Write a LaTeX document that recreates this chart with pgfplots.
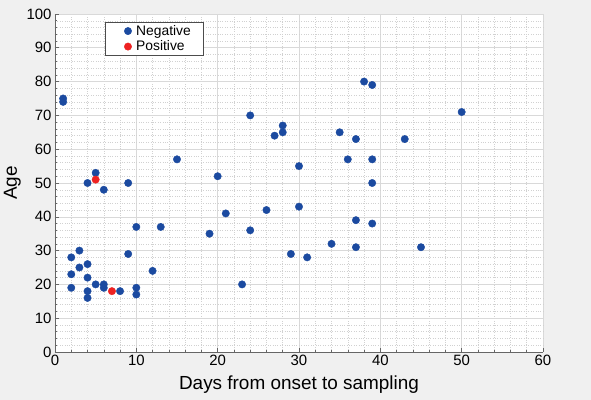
\documentclass[border=0pt]{standalone}
\usepackage{pgfplots}
\pgfplotsset{compat=1.18}
\usepackage{fontspec}
\setmainfont{Liberation Sans}
\definecolor{negblue}{HTML}{1B4AA0}
\definecolor{posred}{HTML}{EE2222}
\definecolor{bggray}{HTML}{F0F0F0}
\begin{document}
\begin{tikzpicture}
\fill[bggray] (-55bp,-48bp) rectangle (536bp,352bp);
\begin{axis}[
  at={(0,0)}, anchor=south west,
  scale only axis, width=488bp, height=338bp,
  xmin=0, xmax=60, ymin=0, ymax=100,
  xtick={0,10,...,60}, ytick={0,10,...,100},
  minor x tick num=4, minor y tick num=4,
  axis x line*=bottom, axis y line*=left,
  axis line style={color=black!60, line width=0.8pt, -},
  tick align=inside,
  major tick length=4bp, minor tick length=2bp,
  tick style={color=black!60, line width=0.6pt},
  grid=both,
  major grid style={color=black!15, line width=0.6pt},
  minor grid style={color=black!18, dotted, line width=0.5pt},
  axis background/.style={fill=white},
  /pgf/number format/assume math mode=true,
  ticklabel style={font=\fontsize{15}{18}\selectfont},
  label style={font=\fontsize{19}{22}\selectfont},
  xlabel={Days from onset to sampling},
  ylabel={Age},
  xlabel style={yshift=-3bp},
  ylabel style={yshift=-1bp},
  legend image code/.code={\path[draw=none,fill=none] (-13bp,0) -- (3.7bp,0);
     \draw[#1] plot coordinates {(0bp,0bp)};},
  legend style={at={(0.102,0.976)}, anchor=north west, draw=black!70, fill=white,
     font=\fontsize{13.9}{16}\selectfont, inner xsep=10bp, inner ysep=1bp, row sep=0bp,
     /tikz/every odd column/.append style={column sep=2.5bp}},
  legend cell align=left,
]
\addplot[only marks, mark=*, mark size=3.7bp, color=negblue] coordinates {
(1,75)(1,74)(4,50)(5,53)(6,48)(9,50)(15,57)(20,52)(24,70)(27,64)(28,67)(28,65)(30,55)
(10,37)(13,37)(21,41)(19,35)(24,36)(3,30)(2,28)(9,29)(4,26)(3,25)(2,23)(4,22)(12,24)
(2,19)(5,20)(6,20)(6,19)(4,18)(4,16)(8,18)(10,19)(10,17)(23,20)(38,80)(39,79)(50,71)
(35,65)(37,63)(43,63)(36,57)(39,57)(39,50)(26,42)(30,43)(37,39)(39,38)(34,32)(37,31)
(45,31)(29,29)(31,28)
};
\addlegendentry{Negative}
\addplot[only marks, mark=*, mark size=3.7bp, color=posred] coordinates {
(5,51)(7,18)
};
\addlegendentry{Positive}
\end{axis}
\end{tikzpicture}
\end{document}
